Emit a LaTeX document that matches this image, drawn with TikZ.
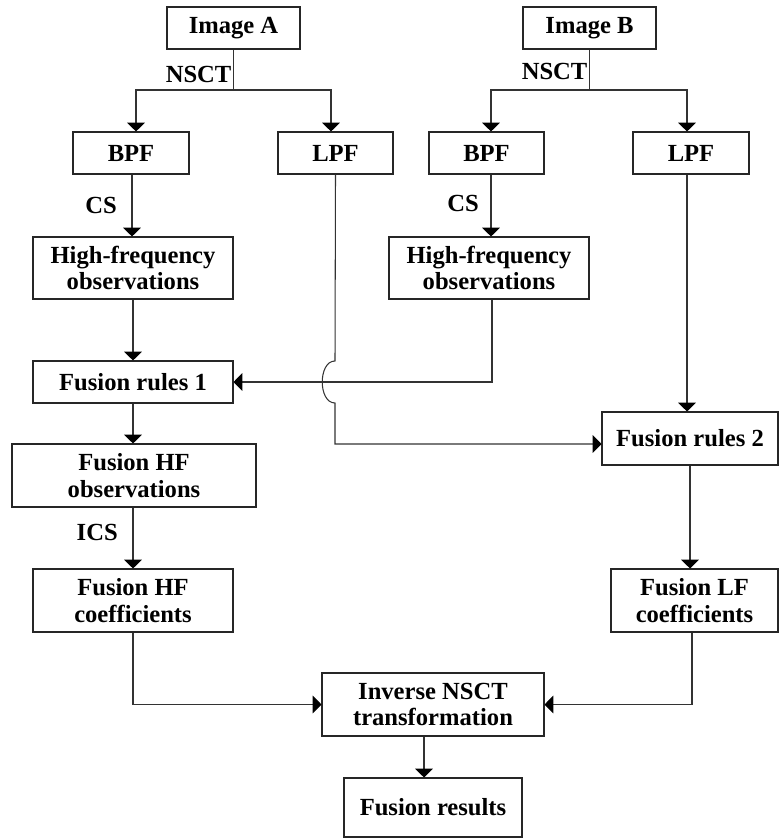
\documentclass[tikz,border=0pt]{standalone}
\usepackage{fontspec}
\setmainfont{Liberation Serif}
\usepackage{tikz}
\usetikzlibrary{
    positioning,
    arrows.meta,
    calc
}

\begin{document}
\begin{tikzpicture}[x=0.02cm, y=-0.02cm,
    font=\bfseries\fontsize{14}{15.2}\selectfont,
    box/.style={draw=black!85, line width=0.6pt, align=center, inner sep=2pt},
    arr/.style={-{Triangle[width=10pt, length=5pt, color=black]}, line width=0.6pt, draw=black!80},
    wire/.style={line width=0.6pt, draw=black!80},
    lab/.style={inner sep=1pt}]

    \useasboundingbox (0,0) rectangle (779,838);

    % ============ TOP: source images and NSCT split ============
    \node[box, minimum width=2.66cm, minimum height=0.84cm] (imgA) at (233.5, 28) {Image A};
    \node[box, minimum width=2.66cm, minimum height=0.84cm] (imgB) at (589.5, 28) {Image B};

    \node[box, minimum width=2.32cm, minimum height=0.84cm] (bpfA) at (131, 153)   {BPF};
    \node[box, minimum width=2.30cm, minimum height=0.84cm] (lpfA) at (335.5, 153) {LPF};
    \node[box, minimum width=2.30cm, minimum height=0.84cm] (bpfB) at (486.5, 153) {BPF};
    \node[box, minimum width=2.32cm, minimum height=0.84cm] (lpfB) at (691, 153)   {LPF};

    \coordinate (splitA) at (233.5, 90);
    \coordinate (splitB) at (589.5, 90);

    \draw[wire] (imgA.south) -- (splitA);
    \draw[arr] (splitA) -| ([xshift=0.1cm]bpfA.north);
    \draw[arr] (splitA) -| ([xshift=-0.09cm]lpfA.north);
    \node[lab, anchor=south east] (nsctA) at ([yshift=0.1cm]splitA) {NSCT};

    \draw[wire] (imgB.south) -- (splitB);
    \draw[arr] (splitB) -| ([xshift=0.09cm]bpfB.north);
    \draw[arr] (splitB) -| ([xshift=-0.08cm]lpfB.north);
    \node[lab, anchor=south east] (nsctB) at ([yshift=0.16cm]splitB) {NSCT};

    % ============ CS observations ============
    \node[box, minimum width=4.0cm, minimum height=1.24cm] (hfoA) at (133, 268)
      {High-frequency\\observations};
    \node[box, minimum width=4.0cm, minimum height=1.24cm] (hfoB) at (489, 268)
      {High-frequency\\observations};

    \draw[arr] ([xshift=0.02cm]bpfA.south) to node[lab, left=0.26cm]{CS} ([xshift=0.02cm]bpfA.south |- hfoA.north);
    \draw[arr] ([xshift=0.09cm]bpfB.south) to node[lab, left=0.2cm, yshift=0.05cm]{CS} ([xshift=0.09cm]bpfB.south |- hfoB.north);

    % ============ Fusion rules ============
    \node[box, minimum width=4.0cm, minimum height=0.84cm] (fr1) at (133, 382) {Fusion rules 1};
    \node[box, minimum width=3.52cm, minimum height=1.06cm] (fr2) at (690, 438.5) {Fusion rules 2};

    \draw[arr] (hfoA.south) -- (hfoA.south |- fr1.north);
    \draw[arr] ([xshift=0.06cm]hfoB.south) |- (fr1.east);

    % low-pass of image A hops over the fusion rules 1 input
    \coordinate (hop) at (335, 382);
    \draw[arr] (lpfA.south) -- ($(hop)+(0,-21)$)
      .. controls +(-17,0) and +(-17,0) .. ($(hop)+(0,21)$) |- (fr2.west |- 0,444);
    \draw[arr] ([xshift=-0.08cm]lpfB.south) -- ([xshift=-0.08cm]lpfB.south |- fr2.north);

    % ============ LEFT: high-frequency path ============
    \node[box, minimum width=4.88cm, minimum height=1.26cm] (fhfo) at (134, 475.5)
      {Fusion HF\\observations};
    \node[box, minimum width=4.0cm, minimum height=1.26cm] (fhfc) at (133, 600.5)
      {Fusion HF\\coefficients};

    \draw[arr] (fr1.south) -- (fr1.south |- fhfo.north);
    \draw[arr] ([xshift=-0.02cm]fhfo.south) to node[lab, left=0.26cm, yshift=0.12cm]{ICS} ([xshift=-0.02cm]fhfo.south |- fhfc.north);

    % ============ RIGHT: low-frequency path ============
    \node[box, minimum width=3.34cm, minimum height=1.26cm] (flfc) at (694.5, 600.5)
      {Fusion LF\\coefficients};

    \draw[arr] (fr2.south) -- (fr2.south |- flfc.north);

    % ============ BOTTOM: reconstruction ============
    \node[box, minimum width=4.44cm, minimum height=1.26cm] (inv) at (433, 704.5)
      {Inverse NSCT\\transformation};
    \node[box, minimum width=3.56cm, minimum height=1.18cm] (res) at (433, 807.5)
      {Fusion results};

    \draw[arr] (fhfc.south) |- (inv.west);
    \draw[arr] ([xshift=-0.05cm]flfc.south) |- (inv.east);
    \draw[arr] ([xshift=-0.18cm]inv.south) -- ([xshift=-0.18cm]inv.south |- res.north);

\end{tikzpicture}
\end{document}
